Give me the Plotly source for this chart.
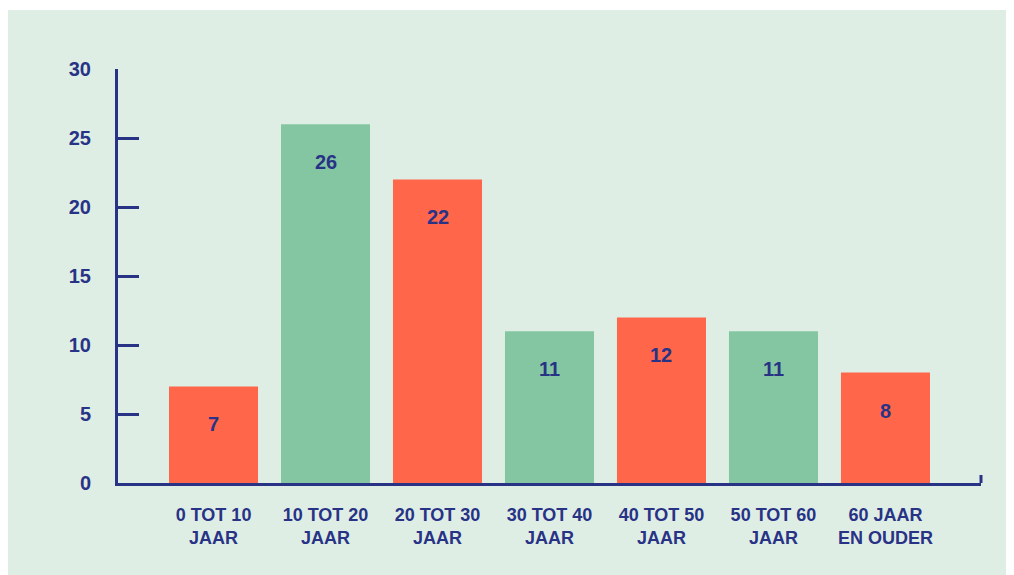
import plotly.graph_objects as go

categories = ["0 TOT 10<br>JAAR", "10 TOT 20<br>JAAR", "20 TOT 30<br>JAAR",
              "30 TOT 40<br>JAAR", "40 TOT 50<br>JAAR", "50 TOT 60<br>JAAR",
              "60 JAAR<br>EN OUDER"]
values = [7, 26, 22, 11, 12, 11, 8]
y_ticks = [0, 5, 10, 15, 20, 25, 30]

ORANGE = "#ff664a"
GREEN = "#84c6a2"
NAVY = "#283386"
BG = "#dfeee5"
bar_colors = [ORANGE, GREEN, ORANGE, GREEN, ORANGE, GREEN, ORANGE]

FONT = "Liberation Sans, Arial, sans-serif"

W, H = 1014, 567
L, R, T, B = 110, 41, 61, 92
pw, ph = W - L - R, H - T - B


def px_y(p):
    return (H - B - p) / ph


fig = go.Figure()
fig.add_trace(go.Bar(
    x=list(range(len(categories))), y=values,
    marker=dict(color=bar_colors, line=dict(width=0)),
    width=0.795, hoverinfo="skip",
))

for i, v in enumerate(values):
    fig.add_annotation(x=i, y=v, text=str(v), showarrow=False,
                       yanchor="middle", yshift=-38,
                       font=dict(family=FONT, size=20, color=NAVY, weight="bold"))

shapes = [
    # thin white strip at the very top
    dict(type="rect", xref="paper", yref="paper", x0=-L / pw, x1=1 + R / pw,
         y0=px_y(2), y1=px_y(-2), fillcolor="white", line=dict(width=0), layer="below"),
    # right-end tick on x axis
    dict(type="line", xref="paper", yref="paper", x0=1, x1=1,
         y0=0, y1=px_y(H - B - 8), line=dict(color=NAVY, width=3)),
]

fig.update_layout(
    width=W, height=H,
    margin=dict(l=L, r=R, t=T, b=B),
    paper_bgcolor=BG, plot_bgcolor="rgba(0,0,0,0)",
    showlegend=False,
    shapes=shapes,
    font=dict(family=FONT, color=NAVY, weight="bold"),
    xaxis=dict(
        range=[-0.853, 6.853], tickmode="array",
        tickvals=list(range(len(categories))), ticktext=categories,
        showgrid=False, zeroline=False, showline=True,
        linecolor=NAVY, linewidth=3, ticks="",
        tickfont=dict(family=FONT, size=18, color=NAVY, weight="bold"),
        ticklabelstandoff=13, fixedrange=True,
    ),
    yaxis=dict(
        range=[0, 30], tickmode="array", tickvals=y_ticks,
        ticktext=[str(t) for t in y_ticks],
        showgrid=False, zeroline=False, showline=True,
        linecolor=NAVY, linewidth=3,
        ticks="inside", ticklen=21, tickwidth=3, tickcolor=NAVY,
        tickfont=dict(family=FONT, size=20, color=NAVY, weight="bold"),
        ticklabelstandoff=20, fixedrange=True,
    ),
)

fig.write_html("out.html", config={"displayModeBar": False})
